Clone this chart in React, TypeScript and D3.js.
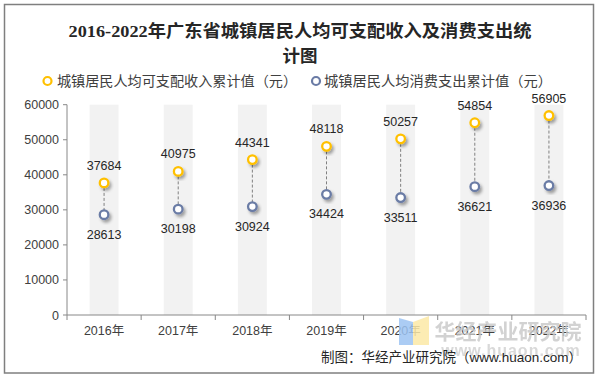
import React from "react";
import * as d3 from "d3";

const categories = ["2016年", "2017年", "2018年", "2019年", "2020年", "2021年", "2022年"];
const incomeValues = [37684, 40975, 44341, 48118, 50257, 54854, 56905];
const expenseValues = [28613, 30198, 30924, 34424, 33511, 36621, 36936];
const yTicks = [0, 10000, 20000, 30000, 40000, 50000, 60000];
const legendLabels = ["城镇居民人均可支配收入累计值（元）", "城镇居民人均消费支出累计值（元）"];

const W = 598;
const H = 377;
const plot = { left: 67, right: 586, top: 104.7, bottom: 315 };
const incomeColor = "#FFC000";
const expenseColor = "#6A7BA5";
const sans = "'Liberation Sans', Arial, 'Noto Sans CJK SC', sans-serif";
const titleFont = "'Liberation Serif', 'Noto Sans CJK SC', serif";

export default function App() {
  const x = d3.scaleBand<string>().domain(categories).range([plot.left, plot.right]).padding(0);
  const y = d3.scaleLinear().domain([0, 60000]).range([plot.bottom, plot.top]);
  const bandW = x.bandwidth() * 0.39;
  const cx = (c: string) => (x(c) as number) + x.bandwidth() / 2;

  return (
    <svg width={W} height={H} style={{ position: "absolute", left: 0, top: 0, background: "#fff" }}>
      <defs>
        <filter id="sh" x="-60%" y="-60%" width="220%" height="220%">
          <feDropShadow dx="2" dy="2.5" stdDeviation="1.4" floodColor="#000" floodOpacity="0.35" />
        </filter>
      </defs>
      <rect x={0} y={0} width={W} height={H} fill="#fff" />
      <rect x={4.5} y={4.5} width={589} height={368.5} fill="none" stroke="#7f7f7f" strokeWidth={1.5} />

      {/* Title */}
      <text x={300} y={37} textAnchor="middle" fontFamily={titleFont} fontWeight="bold" fontSize={17.5} fill="#262626"
        textLength={463} lengthAdjust="spacingAndGlyphs">
        2016-2022年广东省城镇居民人均可支配收入及消费支出统
      </text>
      <text x={300} y={62} textAnchor="middle" fontFamily={titleFont} fontWeight="bold" fontSize={17.5} fill="#262626">
        计图
      </text>

      {/* Legend */}
      <circle cx={47.5} cy={81} r={4} fill="#fff" stroke={incomeColor} strokeWidth={2.2} />
      <text x={57} y={86} fontFamily={sans} fontSize={14} fill="#404040" textLength={240} lengthAdjust="spacingAndGlyphs">{legendLabels[0]}</text>
      <circle cx={316} cy={81} r={4} fill="#fff" stroke={expenseColor} strokeWidth={2.2} />
      <text x={324} y={86} fontFamily={sans} fontSize={14} fill="#404040" textLength={228} lengthAdjust="spacingAndGlyphs">{legendLabels[1]}</text>

      {/* Bands */}
      {categories.map((c) => (
        <rect key={c} x={cx(c) - bandW / 2} y={y(60000)} width={bandW} height={y(0) - y(60000)} fill="#f2f2f2" />
      ))}

      {/* Y axis */}
      <line x1={plot.left} x2={plot.left} y1={y(60000)} y2={y(0)} stroke="#888" strokeWidth={1} />
      {yTicks.map((t) => (
        <g key={t}>
          <line x1={plot.left - 4} x2={plot.left} y1={y(t)} y2={y(t)} stroke="#888" />
          <text x={plot.left - 8} y={y(t) + 4.5} textAnchor="end" fontFamily={sans} fontSize={12.5} fill="#404040">
            {t}
          </text>
        </g>
      ))}

      {/* X axis */}
      <line x1={plot.left} x2={plot.right} y1={y(0)} y2={y(0)} stroke="#888" />
      {categories.concat([""]).map((c, i) => {
        const xx = plot.left + i * x.step();
        return <line key={"t" + i} x1={xx} x2={xx} y1={y(0)} y2={y(0) + 5} stroke="#888" />;
      })}
      {categories.map((c) => (
        <text key={"l" + c} x={cx(c)} y={335} textAnchor="middle" fontFamily={sans} fontSize={12.5} fill="#404040">
          {c}
        </text>
      ))}

      {/* Dashed connectors */}
      {categories.map((c, i) => (
        <line key={"d" + c} x1={cx(c)} x2={cx(c)} y1={y(incomeValues[i])} y2={y(expenseValues[i])}
          stroke="#808080" strokeWidth={1} strokeDasharray="3,2" />
      ))}

      {/* Points */}
      {categories.map((c, i) => (
        <g key={"p" + c}>
          <circle cx={cx(c)} cy={y(incomeValues[i])} r={4.3} fill="#fff" stroke={incomeColor} strokeWidth={2.3} filter="url(#sh)" />
          <circle cx={cx(c)} cy={y(expenseValues[i])} r={4.3} fill="#fff" stroke={expenseColor} strokeWidth={2.3} filter="url(#sh)" />
          <text x={cx(c)} y={y(incomeValues[i]) - 13} textAnchor="middle" fontFamily={sans} fontSize={12.5} fill="#262626">
            {incomeValues[i]}
          </text>
          <text x={cx(c)} y={y(expenseValues[i]) + 24} textAnchor="middle" fontFamily={sans} fontSize={12.5} fill="#262626">
            {expenseValues[i]}
          </text>
        </g>
      ))}

      {/* Watermark */}
      <polygon points="399,318 413,322 413,345 399,345" fill="#9cc3f2" opacity={0.85} />
      <polygon points="413,322 429,316 429,345 413,345" fill="#fbe9a6" opacity={0.85} />
      <text x={508} y={339} textAnchor="middle" fontFamily={sans} fontWeight="bold" fontSize={21} fill="#c8c8c8" opacity={0.8}>
        华经产业研究院
      </text>
      <text x={511} y={356} textAnchor="middle" fontFamily={sans} fontWeight="bold" fontSize={16} fill="#d0d0d0" opacity={0.8} letterSpacing={1}>
        www.huaon.com
      </text>

      {/* Source */}
      <text x={582} y={362} textAnchor="end" fontFamily={sans} fontSize={13.5} fill="#262626">
        制图：华经产业研究院（www.huaon.com）
      </text>
    </svg>
  );
}
